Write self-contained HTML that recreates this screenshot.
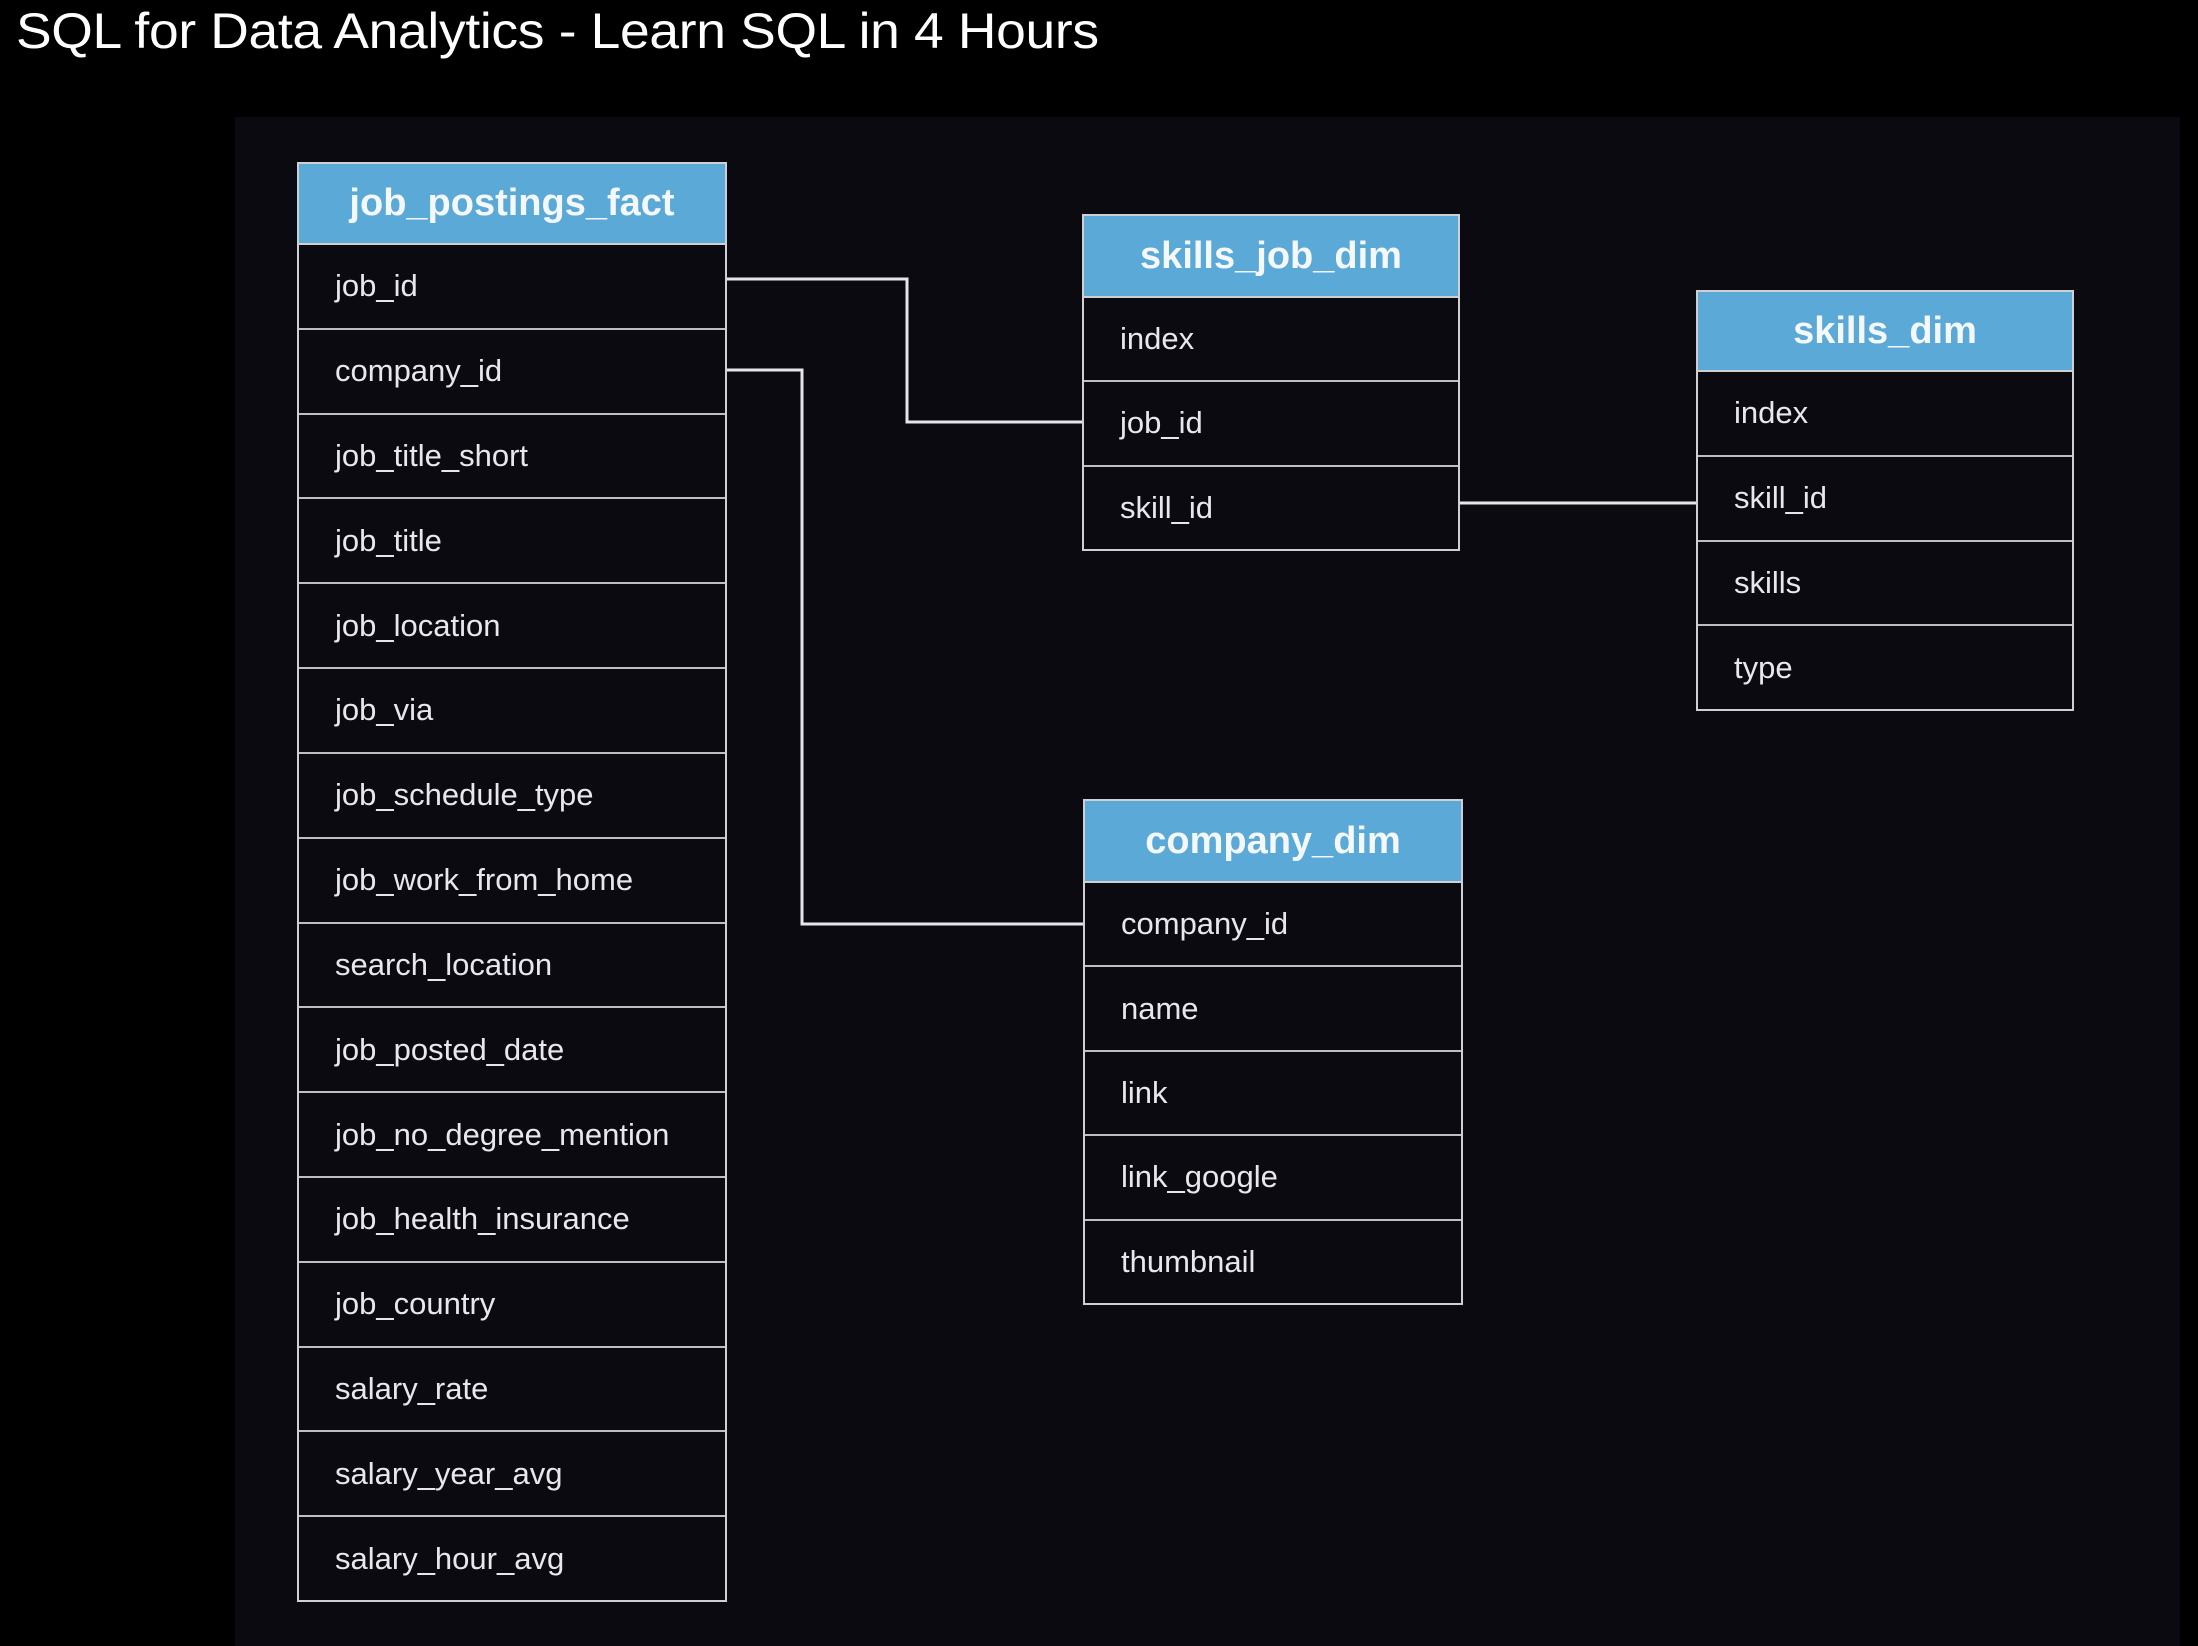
<!DOCTYPE html>
<html><head><meta charset="utf-8"><style>
*{margin:0;padding:0;box-sizing:border-box}
body{width:2198px;height:1646px;background:#000;position:relative;overflow:hidden;font-family:"Liberation Sans",sans-serif}
.title{position:absolute;left:16px;top:2px;color:#fff;font-size:50px;white-space:nowrap;transform:scaleX(1.068);transform-origin:left top;letter-spacing:-0.3px}
.panel{position:absolute;left:235px;top:117px;width:1945px;height:1529px;background:#0a0a10}
.t{position:absolute;border:2px solid #cfcfd4;background:#0a0a10}
.h{background:#5aa9d6;color:#f4f8fb;font-weight:bold;text-align:center;border-bottom:2px solid #cfcfd4}
.r{color:#e8e8ec;border-bottom:2px solid #bdbdc4;padding-left:36px;font-size:31px;display:flex;align-items:center}
.r:last-child{border-bottom:none}
svg{position:absolute;left:0;top:0}
</style></head><body>
<div class="title">SQL for Data Analytics - Learn SQL in 4 Hours</div>
<div class="panel"></div>
<svg width="2198" height="1646"><g stroke="#e6e6ea" stroke-width="3" fill="none">
<polyline points="726,279 907,279 907,422 1082,422"/>
<polyline points="726,370 802,370 802,924 1084,924"/>
<polyline points="1459,503 1696,503"/>
</g></svg>

<div class="t" style="left:297px;top:162px;width:430px;height:1440px">
<div class="h" style="height:81px;line-height:79px;font-size:38px">job_postings_fact</div>
<div style="height:1355px;display:flex;flex-direction:column">
<div class="r" style="flex:1">job_id</div><div class="r" style="flex:1">company_id</div><div class="r" style="flex:1">job_title_short</div><div class="r" style="flex:1">job_title</div><div class="r" style="flex:1">job_location</div><div class="r" style="flex:1">job_via</div><div class="r" style="flex:1">job_schedule_type</div><div class="r" style="flex:1">job_work_from_home</div><div class="r" style="flex:1">search_location</div><div class="r" style="flex:1">job_posted_date</div><div class="r" style="flex:1">job_no_degree_mention</div><div class="r" style="flex:1">job_health_insurance</div><div class="r" style="flex:1">job_country</div><div class="r" style="flex:1">salary_rate</div><div class="r" style="flex:1">salary_year_avg</div><div class="r" style="flex:1">salary_hour_avg</div>
</div></div>

<div class="t" style="left:1082px;top:214px;width:378px;height:337px">
<div class="h" style="height:82px;line-height:80px;font-size:38px">skills_job_dim</div>
<div style="height:251px;display:flex;flex-direction:column">
<div class="r" style="flex:1">index</div><div class="r" style="flex:1">job_id</div><div class="r" style="flex:1">skill_id</div>
</div></div>

<div class="t" style="left:1696px;top:290px;width:378px;height:421px">
<div class="h" style="height:80px;line-height:78px;font-size:38px">skills_dim</div>
<div style="height:337px;display:flex;flex-direction:column">
<div class="r" style="flex:1">index</div><div class="r" style="flex:1">skill_id</div><div class="r" style="flex:1">skills</div><div class="r" style="flex:1">type</div>
</div></div>

<div class="t" style="left:1083px;top:799px;width:380px;height:506px">
<div class="h" style="height:82px;line-height:80px;font-size:38px">company_dim</div>
<div style="height:420px;display:flex;flex-direction:column">
<div class="r" style="flex:1">company_id</div><div class="r" style="flex:1">name</div><div class="r" style="flex:1">link</div><div class="r" style="flex:1">link_google</div><div class="r" style="flex:1">thumbnail</div>
</div></div>
</body></html>
